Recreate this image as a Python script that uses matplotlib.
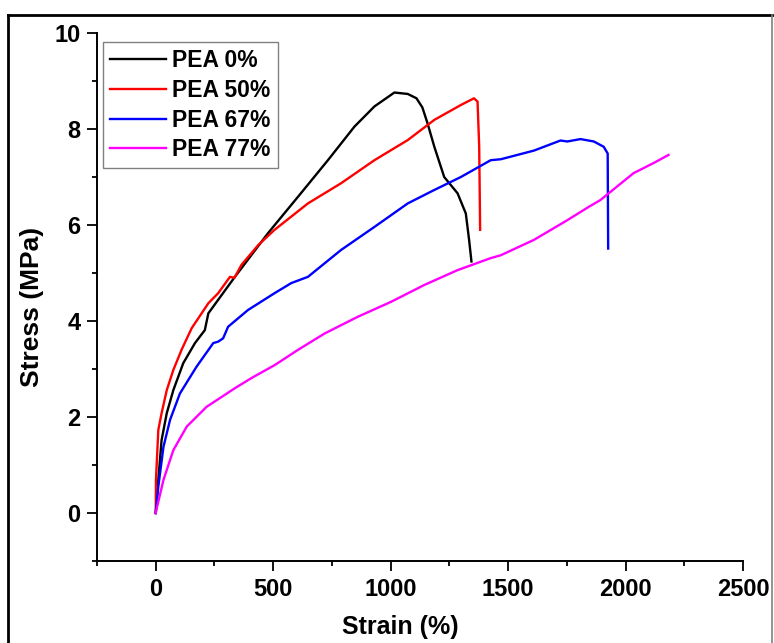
import matplotlib
matplotlib.use("Agg")
import matplotlib.pyplot as plt
from matplotlib.ticker import MultipleLocator
from matplotlib.lines import Line2D

plt.rcParams['font.family'] = ['Liberation Sans', 'DejaVu Sans']
plt.rcParams['font.weight'] = 'bold'

labels = ["PEA 0%", "PEA 50%", "PEA 67%", "PEA 77%"]
colors = ["#000000", "#FF0000", "#0000FF", "#FF00FF"]

x_pea0 = [0, 11, 25, 47, 75, 117, 167, 209, 224, 337, 478, 606, 733, 846, 931, 1016,
          1073, 1110, 1135, 1157, 1186, 1228, 1285, 1320, 1334, 1344]
y_pea0 = [0, 0.69, 1.52, 2.08, 2.56, 3.12, 3.54, 3.81, 4.16, 4.92, 5.83, 6.59, 7.35, 8.05, 8.47, 8.76,
          8.73, 8.64, 8.45, 8.12, 7.63, 7.00, 6.66, 6.24, 5.69, 5.24]

x_pea50 = [0, 1, 11, 25, 47, 75, 110, 153, 224, 266, 316, 335, 365, 436, 506, 648, 789,
           931, 1073, 1186, 1299, 1355, 1370, 1377, 1381]
y_pea50 = [0, 0.69, 1.73, 2.08, 2.56, 2.98, 3.40, 3.85, 4.37, 4.58, 4.92, 4.90, 5.17, 5.58, 5.90, 6.45, 6.87,
           7.35, 7.77, 8.19, 8.50, 8.64, 8.57, 7.63, 5.90]

x_pea67 = [0, 11, 33, 61, 103, 174, 245, 266, 287, 308, 393, 506, 577, 648, 789, 931, 1073,
           1186, 1299, 1426, 1469, 1610, 1723, 1752, 1808, 1865, 1907, 1924, 1926]
y_pea67 = [0, 0.55, 1.38, 1.94, 2.49, 3.05, 3.54, 3.57, 3.64, 3.88, 4.23, 4.58, 4.79, 4.92, 5.48, 5.96, 6.45,
           6.73, 7.00, 7.35, 7.37, 7.55, 7.76, 7.74, 7.79, 7.74, 7.63, 7.49, 5.51]

x_pea77 = [0, 1, 33, 75, 132, 216, 337, 407, 506, 606, 719, 861, 1002, 1143, 1285, 1426,
           1469, 1610, 1752, 1844, 1893, 2034, 2119, 2183]
y_pea77 = [0, 0.03, 0.69, 1.31, 1.80, 2.21, 2.60, 2.81, 3.08, 3.40, 3.74, 4.09, 4.40, 4.75, 5.06, 5.31,
           5.37, 5.69, 6.10, 6.38, 6.52, 7.08, 7.29, 7.46]

series_x = [x_pea0, x_pea50, x_pea67, x_pea77]
series_y = [y_pea0, y_pea50, y_pea67, y_pea77]

fig = plt.figure(figsize=(7.74, 6.43), dpi=100)
ax = fig.add_axes([97/774, 1 - 561/643, (743 - 97)/774, (561 - 33)/643])

for xs, ys, c, lab in zip(series_x, series_y, colors, labels):
    ax.plot(xs, ys, color=c, lw=1.7, label=lab, solid_joinstyle='round')

ax.set_xlim(-250, 2500)
ax.set_ylim(-1, 10)
ax.xaxis.set_minor_locator(MultipleLocator(250))
ax.yaxis.set_minor_locator(MultipleLocator(1))
ax.set_xticks([0, 500, 1000, 1500, 2000, 2500])
ax.set_yticks([0, 2, 4, 6, 8, 10])

for s in ['top', 'right']:
    ax.spines[s].set_visible(False)
for s in ['left', 'bottom']:
    ax.spines[s].set_linewidth(1.4)

ax.tick_params(axis='both', which='major', direction='out', length=7, width=1.3, labelsize=17)
ax.tick_params(axis='both', which='minor', direction='out', length=3.5, width=1.3)
ax.tick_params(axis='x', which='major', pad=5)
ax.tick_params(axis='y', which='major', pad=5)
for lbl in ax.get_xticklabels() + ax.get_yticklabels():
    lbl.set_fontweight('bold')

ax.set_xlabel("Strain (%)", fontsize=18, fontweight='bold')
ax.set_ylabel("Stress (MPa)", fontsize=19, fontweight='bold')
ax.xaxis.set_label_coords(0.47, -0.102)
ax.yaxis.set_label_coords(-0.082, 0.481)

leg = ax.legend(loc='upper left', bbox_to_anchor=(0.0093, 0.983), borderaxespad=0,
                fancybox=False, edgecolor='#808080', framealpha=1,
                prop={'size': 16.5, 'weight': 'bold'}, handlelength=2.45,
                handletextpad=0.28, labelspacing=0.30, borderpad=0.3)
leg.get_frame().set_linewidth(1.0)
for h in leg.get_lines():
    h.set_linewidth(1.7)

# outer frame
fig.add_artist(Line2D([8/774, 772/774], [1 - 15/643, 1 - 15/643], transform=fig.transFigure,
                      color='black', lw=2))
fig.add_artist(Line2D([8/774, 8/774], [0, 1 - 15/643], transform=fig.transFigure,
                      color='black', lw=2))
fig.add_artist(Line2D([772/774, 772/774], [0, 1 - 15/643], transform=fig.transFigure,
                      color='#808080', lw=1.2))

fig.savefig("out.png", dpi=100)
